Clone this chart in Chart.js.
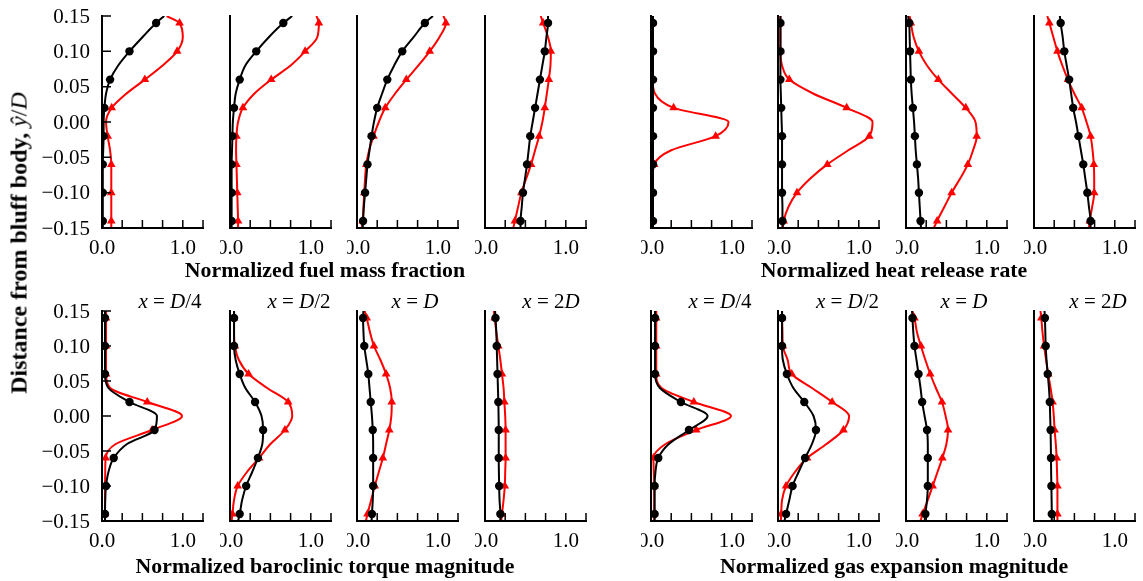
<!DOCTYPE html>
<html>
<head>
<meta charset="utf-8">
<script src="https://cdn.jsdelivr.net/npm/chart.js@4.4.1/dist/chart.umd.min.js"></script>
<style>
  body { margin: 0; background: #fff; width: 1143px; height: 581px; position: relative; overflow: hidden; font-family: "Liberation Serif", serif; }
  .box { position: absolute; }
  .txt { position: absolute; white-space: nowrap; transform: translate(-50%, -50%); color: #000; }
  .ttl { font-weight: bold; font-size: 21.8px; }
  .col { font-size: 21px; }
  .ylab { font-size: 24px; transform: translate(-50%, -50%) rotate(-90deg); }
  i { font-style: italic; }
</style>
</head>
<body>
<script>
// profile samples (curve) and the levels that carry a marker
const yLevels = [0.15, 0.14, 0.12, 0.10, 0.08, 0.06, 0.04, 0.02, 0.00, -0.02, -0.04, -0.06, -0.08, -0.10, -0.12, -0.14, -0.15];
const markerLevels = [0.14, 0.10, 0.06, 0.02, -0.02, -0.06, -0.10, -0.14];
const stations = ['D/4', 'D/2', 'D', '2D'];
const xTicks = [0, 0.25, 0.5, 0.75, 1.0, 1.25];
const xTickLabels = ['0.0', '', '', '', '1.0', ''];
const yTicks = [0.15, 0.10, 0.05, 0.00, -0.05, -0.10, -0.15];

// one array per station: x = D/4, D/2, D, 2D
const fuelBlack = [
  [0.77, 0.67, 0.50, 0.34, 0.20, 0.10, 0.05, 0.03, 0.02, 0.02, 0.015, 0.01, 0.01, 0.01, 0.01, 0.01, 0.01],
  [0.77, 0.66, 0.48, 0.325, 0.19, 0.12, 0.07, 0.05, 0.035, 0.03, 0.025, 0.02, 0.02, 0.02, 0.02, 0.02, 0.02],
  [0.94, 0.84, 0.70, 0.56, 0.46, 0.375, 0.31, 0.25, 0.21, 0.18, 0.155, 0.13, 0.115, 0.10, 0.085, 0.075, 0.07],
  [0.78, 0.78, 0.76, 0.74, 0.71, 0.68, 0.65, 0.62, 0.59, 0.56, 0.54, 0.52, 0.495, 0.47, 0.455, 0.44, 0.44]
];
const fuelRed = [
  [0.80, 0.96, 1.00, 0.93, 0.75, 0.53, 0.30, 0.12, 0.05, 0.07, 0.10, 0.115, 0.115, 0.115, 0.115, 0.115, 0.115],
  [1.07, 1.10, 1.08, 0.93, 0.75, 0.51, 0.30, 0.16, 0.10, 0.08, 0.075, 0.08, 0.085, 0.09, 0.095, 0.10, 0.10],
  [1.07, 1.10, 1.02, 0.90, 0.76, 0.61, 0.47, 0.35, 0.27, 0.205, 0.15, 0.115, 0.10, 0.09, 0.08, 0.07, 0.06],
  [0.69, 0.72, 0.78, 0.815, 0.81, 0.79, 0.765, 0.74, 0.71, 0.67, 0.62, 0.57, 0.51, 0.45, 0.41, 0.37, 0.35]
];
const heatBlack = [
  [0.025, 0.025, 0.025, 0.025, 0.025, 0.025, 0.025, 0.025, 0.025, 0.025, 0.025, 0.025, 0.025, 0.025, 0.025, 0.025, 0.025],
  [0.03, 0.03, 0.03, 0.03, 0.03, 0.03, 0.035, 0.04, 0.045, 0.05, 0.05, 0.05, 0.05, 0.05, 0.055, 0.055, 0.055],
  [0.025, 0.04, 0.045, 0.05, 0.055, 0.06, 0.07, 0.085, 0.10, 0.11, 0.12, 0.135, 0.15, 0.16, 0.17, 0.18, 0.185],
  [0.32, 0.33, 0.355, 0.375, 0.405, 0.435, 0.46, 0.485, 0.52, 0.55, 0.58, 0.61, 0.635, 0.66, 0.68, 0.70, 0.70]
];
const heatRed = [
  [0.02, 0.02, 0.02, 0.02, 0.02, 0.02, 0.05, 0.28, 0.96, 0.80, 0.25, 0.04, 0.02, 0.02, 0.02, 0.02, 0.02],
  [0.03, 0.03, 0.03, 0.03, 0.05, 0.14, 0.44, 0.85, 1.17, 1.13, 0.87, 0.61, 0.40, 0.235, 0.13, 0.07, 0.06],
  [0.045, 0.06, 0.095, 0.16, 0.26, 0.40, 0.57, 0.74, 0.86, 0.875, 0.83, 0.765, 0.67, 0.565, 0.475, 0.385, 0.345],
  [0.165, 0.19, 0.24, 0.29, 0.35, 0.42, 0.50, 0.59, 0.65, 0.70, 0.725, 0.74, 0.745, 0.745, 0.72, 0.69, 0.68]
];
const torqueBlack = [
  [0.037, 0.037, 0.037, 0.037, 0.037, 0.037, 0.08, 0.34, 0.68, 0.65, 0.31, 0.145, 0.08, 0.05, 0.04, 0.037, 0.037],
  [0.05, 0.05, 0.05, 0.05, 0.07, 0.12, 0.19, 0.31, 0.39, 0.41, 0.40, 0.345, 0.275, 0.20, 0.15, 0.12, 0.10],
  [0.08, 0.075, 0.08, 0.09, 0.115, 0.14, 0.155, 0.17, 0.185, 0.195, 0.20, 0.20, 0.20, 0.20, 0.195, 0.185, 0.18],
  [0.125, 0.13, 0.14, 0.145, 0.15, 0.155, 0.16, 0.165, 0.168, 0.17, 0.17, 0.17, 0.172, 0.175, 0.18, 0.19, 0.19]
];
const torqueRed = [
  [0.05, 0.05, 0.05, 0.05, 0.05, 0.05, 0.10, 0.56, 0.99, 0.62, 0.17, 0.045, 0.04, 0.037, 0.037, 0.037, 0.037],
  [0.05, 0.05, 0.05, 0.06, 0.11, 0.23, 0.46, 0.72, 0.77, 0.68, 0.50, 0.36, 0.21, 0.095, 0.05, 0.03, 0.02],
  [0.095, 0.12, 0.16, 0.21, 0.29, 0.36, 0.41, 0.43, 0.425, 0.40, 0.36, 0.32, 0.27, 0.22, 0.175, 0.13, 0.11],
  [0.11, 0.12, 0.14, 0.165, 0.19, 0.21, 0.23, 0.24, 0.25, 0.255, 0.255, 0.255, 0.25, 0.245, 0.23, 0.21, 0.20]
];
const expansionBlack = [
  [0.05, 0.05, 0.05, 0.05, 0.05, 0.05, 0.11, 0.37, 0.70, 0.47, 0.22, 0.09, 0.055, 0.045, 0.045, 0.045, 0.045],
  [0.05, 0.05, 0.05, 0.05, 0.06, 0.11, 0.19, 0.325, 0.44, 0.47, 0.42, 0.335, 0.255, 0.18, 0.14, 0.10, 0.08],
  [0.075, 0.08, 0.09, 0.105, 0.13, 0.155, 0.18, 0.20, 0.23, 0.26, 0.27, 0.27, 0.27, 0.27, 0.26, 0.24, 0.23],
  [0.13, 0.135, 0.14, 0.145, 0.155, 0.17, 0.185, 0.195, 0.20, 0.205, 0.208, 0.21, 0.212, 0.215, 0.218, 0.22, 0.22]
];
const expansionRed = [
  [0.065, 0.065, 0.065, 0.065, 0.065, 0.065, 0.13, 0.53, 0.99, 0.56, 0.18, 0.03, 0.035, 0.04, 0.04, 0.04, 0.04],
  [0.05, 0.05, 0.055, 0.06, 0.12, 0.17, 0.42, 0.67, 0.88, 0.81, 0.60, 0.36, 0.21, 0.10, 0.05, 0.04, 0.035],
  [0.08, 0.105, 0.135, 0.185, 0.24, 0.30, 0.37, 0.445, 0.49, 0.52, 0.50, 0.45, 0.39, 0.33, 0.27, 0.205, 0.18],
  [0.08, 0.09, 0.105, 0.125, 0.15, 0.175, 0.205, 0.23, 0.245, 0.255, 0.27, 0.28, 0.285, 0.29, 0.29, 0.29, 0.29]
];

const quantities = [
  { title: 'Normalized fuel mass fraction', black: fuelBlack, red: fuelRed, row: 0, group: 0 },
  { title: 'Normalized heat release rate', black: heatBlack, red: heatRed, row: 0, group: 1 },
  { title: 'Normalized baroclinic torque magnitude', black: torqueBlack, red: torqueRed, row: 1, group: 0 },
  { title: 'Normalized gas expansion magnitude', black: expansionBlack, red: expansionRed, row: 1, group: 1 }
];

// layout (px)
const colLeft = [102, 229.5, 357, 485, 651, 778, 906, 1033.5];
const plotW = 101.5;
const rowTop = [16, 311];
const rowH = [212, 210];
const titleX = [325, 894];
const titleY = [270, 566];
const stationX = [170, 299, 415, 551, 720, 847.5, 964, 1098];
const stationY = 301;

const FONT = '21px "Liberation Serif", serif';

const axesPlugin = {
  id: 'axes',
  afterDatasetsDraw(chart, args, opts) {
    const { ctx, chartArea: a, scales: { x, y } } = chart;
    ctx.save();
    ctx.strokeStyle = '#000';
    ctx.lineWidth = 2;
    ctx.lineCap = 'square';
    ctx.beginPath();
    ctx.moveTo(a.left, a.top);
    ctx.lineTo(a.left, a.bottom);
    ctx.lineTo(a.right, a.bottom);
    ctx.stroke();

    ctx.lineWidth = 1.5;
    ctx.lineCap = 'butt';
    ctx.beginPath();
    xTicks.forEach(v => {
      const px = x.getPixelForValue(v);
      ctx.moveTo(px, a.bottom);
      ctx.lineTo(px, a.bottom - 8);
    });
    if (opts.yLabels) {
      yTicks.forEach(v => {
        const py = y.getPixelForValue(v);
        ctx.moveTo(a.left, py);
        ctx.lineTo(a.left + 9, py);
      });
    }
    ctx.stroke();

    ctx.fillStyle = '#000';
    ctx.font = FONT;
    ctx.textAlign = 'center';
    ctx.textBaseline = 'middle';
    xTicks.forEach((v, i) => {
      if (xTickLabels[i]) ctx.fillText(xTickLabels[i], x.getPixelForValue(v), a.bottom + 20);
    });
    if (opts.yLabels) {
      ctx.textAlign = 'right';
      yTicks.forEach(v => {
        const s = v.toFixed(2).replace('-', '\u2212');
        ctx.fillText(s, a.left - 12, y.getPixelForValue(v) + 1);
      });
    }
    ctx.restore();
  }
};

function makePanel(q, k) {
  const col = q.group * 4 + k;
  const first = col === 0;
  const pad = { left: first ? 100 : 10, right: 10, top: 8, bottom: 40 };
  const w = plotW + pad.left + pad.right;
  const h = rowH[q.row] + pad.top + pad.bottom;

  const box = document.createElement('div');
  box.className = 'box';
  box.style.left = (colLeft[col] - pad.left) + 'px';
  box.style.top = (rowTop[q.row] - pad.top) + 'px';
  box.style.width = w + 'px';
  box.style.height = h + 'px';
  const canvas = document.createElement('canvas');
  canvas.width = w;
  canvas.height = h;
  box.appendChild(canvas);
  document.body.appendChild(box);

  const curve = vals => yLevels.map((yv, i) => ({ x: vals[i], y: yv }));
  const marks = vals => markerLevels.map(yv => ({ x: vals[yLevels.indexOf(yv)], y: yv }));
  const black = q.black[k], red = q.red[k];

  new Chart(canvas, {
    type: 'line',
    data: {
      datasets: [
        { data: marks(black), showLine: false, pointStyle: 'circle', pointRadius: 4.2, pointBackgroundColor: '#000', pointBorderWidth: 0 },
        { data: curve(black), borderColor: '#000', borderWidth: 2, pointRadius: 0, cubicInterpolationMode: 'monotone' },
        { data: marks(red), showLine: false, pointStyle: 'triangle', pointRadius: 5, pointBackgroundColor: '#f00', pointBorderWidth: 0 },
        { data: curve(red), borderColor: '#f00', borderWidth: 2, pointRadius: 0, cubicInterpolationMode: 'monotone' }
      ]
    },
    options: {
      responsive: false,
      animation: false,
      indexAxis: 'y',
      layout: { padding: pad },
      scales: {
        x: { type: 'linear', min: 0, max: 1.25, display: false },
        y: { type: 'linear', min: -0.15, max: 0.15, display: false }
      },
      plugins: { legend: { display: false }, tooltip: { enabled: false }, axes: { yLabels: first } },
      events: []
    },
    plugins: [axesPlugin]
  });
}

function addText(html, x, y, cls) {
  const d = document.createElement('div');
  d.className = 'txt ' + cls;
  d.style.left = x + 'px';
  d.style.top = y + 'px';
  d.innerHTML = html;
  document.body.appendChild(d);
}

quantities.forEach(q => {
  stations.forEach((s, k) => makePanel(q, k));
  addText(q.title, titleX[q.group], titleY[q.row], 'ttl');
});
stations.forEach((s, k) => {
  const label = '<i>x</i> = ' + s.replace('D', '<i>D</i>');
  addText(label, stationX[k], stationY, 'col');
  addText(label, stationX[k + 4], stationY, 'col');
});
addText('Distance from bluff body, <span style="font-weight:normal"><i>ŷ</i>/<i>D</i></span>', 19, 243, 'ttl ylab');
</script>
</body>
</html>
